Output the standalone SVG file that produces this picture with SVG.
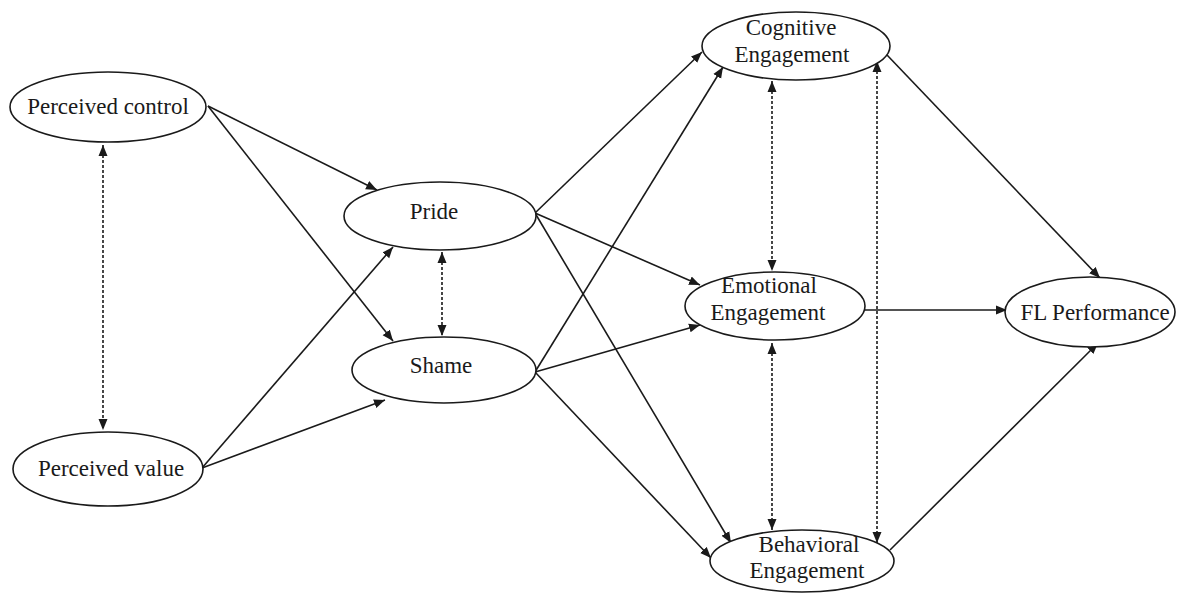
<svg xmlns="http://www.w3.org/2000/svg" width="1177" height="594" viewBox="0 0 1177 594">
<style>
.node ellipse{fill:#fff;stroke:#1a1a1a;stroke-width:1.6}
.node text{font-family:"Liberation Serif","Times New Roman",serif;font-size:23px;fill:#1a1a1a;text-anchor:middle}
.edge{stroke:#1a1a1a;stroke-width:1.6;fill:none;marker-end:url(#ah)}
.cov{stroke:#1a1a1a;stroke-width:1.6;fill:none;stroke-dasharray:3 2;marker-start:url(#ah);marker-end:url(#ah)}
</style>
<defs>
<marker id="ah" markerUnits="userSpaceOnUse" markerWidth="12" markerHeight="10" refX="11" refY="5" orient="auto-start-reverse" viewBox="0 0 12 10">
<path d="M0,0.5 L11,5 L0,9.5 z" fill="#1a1a1a"/>
</marker>
</defs>
<rect width="1177" height="594" fill="#fff"/>
<g id="connectors">
<line class="edge" x1="208" y1="106" x2="377" y2="190"/>
<line class="edge" x1="208" y1="106" x2="393" y2="341"/>
<line class="edge" x1="202" y1="468" x2="393" y2="247"/>
<line class="edge" x1="202" y1="468" x2="385" y2="400"/>
<line class="edge" x1="535" y1="213" x2="702" y2="52"/>
<line class="edge" x1="535" y1="213" x2="700" y2="285"/>
<line class="edge" x1="535" y1="213" x2="731" y2="543"/>
<line class="edge" x1="535" y1="372" x2="723" y2="67"/>
<line class="edge" x1="535" y1="372" x2="700" y2="325"/>
<line class="edge" x1="535" y1="372" x2="711" y2="558"/>
<line class="edge" x1="887" y1="55" x2="1100" y2="278"/>
<line class="edge" x1="865" y1="310" x2="1007" y2="310"/>
<line class="edge" x1="890" y1="550" x2="1098" y2="343"/>
<line class="cov" x1="103" y1="145" x2="103" y2="430"/>
<line class="cov" x1="442" y1="252" x2="442" y2="336"/>
<line class="cov" x1="772" y1="81" x2="772" y2="271"/>
<line class="cov" x1="772" y1="343" x2="772" y2="530"/>
<line class="cov" x1="877" y1="61" x2="877" y2="543"/>
</g>
<g id="perceived-control" class="node"><ellipse cx="108" cy="107" rx="98" ry="35"/><text x="108" y="114">Perceived control</text></g>
<g id="perceived-value" class="node"><ellipse cx="108" cy="469" rx="95" ry="37"/><text x="111" y="476">Perceived value</text></g>
<g id="pride" class="node"><ellipse cx="440" cy="216" rx="96" ry="34"/><text x="434" y="219">Pride</text></g>
<g id="shame" class="node"><ellipse cx="444" cy="370" rx="92" ry="33"/><text x="441" y="373">Shame</text></g>
<g id="cognitive" class="node"><ellipse cx="796" cy="46" rx="94" ry="34"/><text x="791" y="35">Cognitive</text><text x="792" y="62">Engagement</text></g>
<g id="emotional" class="node"><ellipse cx="775" cy="306" rx="90" ry="34"/><text x="769" y="293">Emotional</text><text x="768" y="320">Engagement</text></g>
<g id="fl-performance" class="node"><ellipse cx="1090" cy="312" rx="85" ry="35"/><text x="1095" y="320">FL Performance</text></g>
<g id="behavioral" class="node"><ellipse cx="802" cy="561" rx="92" ry="31"/><text x="809" y="552">Behavioral</text><text x="807" y="578">Engagement</text></g>
</svg>
